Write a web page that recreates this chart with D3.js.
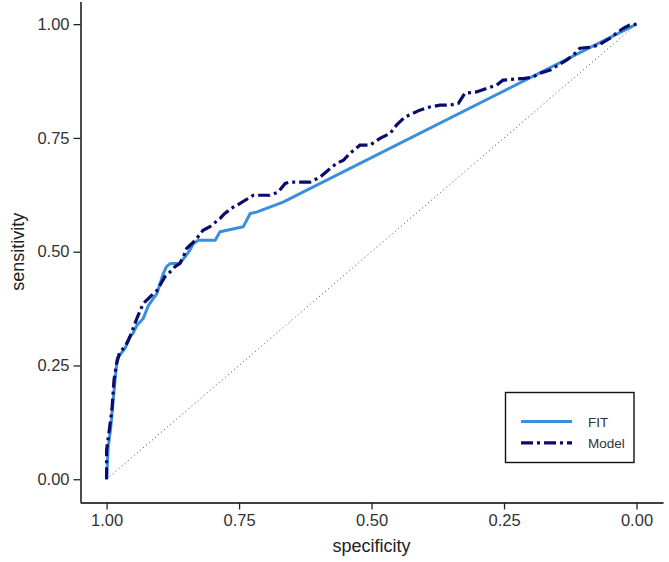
<!DOCTYPE html>
<html><head><meta charset="utf-8">
<script src="https://cdn.jsdelivr.net/npm/d3@7"></script>
<style>body{margin:0;background:#fff}svg{display:block;font-family:"Liberation Sans",Arial,sans-serif}</style>
</head><body><svg id="c" width="669" height="562"></svg>
<script>
// specificity / sensitivity pairs
const fitSpec = [1.000,0.997,0.992,0.987,0.984,0.980,0.975,0.965,0.956,0.950,0.943,0.931,0.921,0.912,0.905,0.899,0.893,0.887,0.880,0.862,0.852,0.843,0.836,0.827,0.795,0.786,0.742,0.729,0.717,0.692,0.667,0.000];
const fitSens = [0.000,0.071,0.115,0.181,0.218,0.266,0.273,0.288,0.313,0.321,0.338,0.353,0.382,0.397,0.408,0.430,0.452,0.467,0.474,0.474,0.489,0.503,0.518,0.525,0.525,0.544,0.555,0.584,0.587,0.598,0.609,1.000];
const modelSpec = [1.000,1.000,0.995,0.990,0.986,0.981,0.975,0.965,0.956,0.943,0.931,0.915,0.905,0.890,0.877,0.871,0.862,0.855,0.849,0.839,0.830,0.818,0.805,0.786,0.777,0.761,0.748,0.733,0.723,0.692,0.676,0.663,0.654,0.616,0.597,0.578,0.566,0.553,0.541,0.522,0.503,0.484,0.465,0.453,0.437,0.409,0.390,0.371,0.352,0.336,0.324,0.302,0.283,0.264,0.252,0.211,0.195,0.182,0.163,0.148,0.132,0.119,0.107,0.082,0.066,0.050,0.038,0.025,0.013,0.000];
const modelSens = [0.000,0.064,0.108,0.152,0.218,0.255,0.280,0.291,0.313,0.353,0.386,0.404,0.415,0.445,0.459,0.467,0.474,0.489,0.507,0.518,0.529,0.547,0.555,0.573,0.584,0.598,0.606,0.617,0.624,0.624,0.631,0.650,0.653,0.653,0.664,0.683,0.694,0.701,0.716,0.734,0.734,0.749,0.760,0.778,0.796,0.811,0.818,0.822,0.822,0.826,0.848,0.851,0.859,0.866,0.877,0.881,0.884,0.892,0.899,0.910,0.921,0.932,0.947,0.950,0.958,0.969,0.980,0.991,0.998,1.000];
const tickValues = [1.00,0.75,0.50,0.25,0.00];
const seriesNames = ["FIT","Model"];
const seriesColors = ["#3a8fdd","#0b0b6b"];

const svg = d3.select("#c");
const x = d3.scaleLinear().domain([1.05,-0.05]).range([80.1,663]);
const y = d3.scaleLinear().domain([-0.05,1.05]).range([502,1.4]);

// diagonal reference
svg.append("line").attr("x1",x(1)).attr("y1",y(0)).attr("x2",x(0)).attr("y2",y(1))
  .attr("stroke","#444").attr("stroke-width",1).attr("stroke-dasharray","1,3");

const line = d3.line().x(d=>x(d[0])).y(d=>y(d[1]));
const fit = fitSpec.map((s,i)=>[s,fitSens[i]]);
const model = modelSpec.map((s,i)=>[s,modelSens[i]]);
svg.append("path").datum(fit).attr("d",line).attr("fill","none")
  .attr("stroke",seriesColors[0]).attr("stroke-width",3).attr("stroke-linejoin","round");
svg.append("path").datum(model).attr("d",line).attr("fill","none")
  .attr("stroke",seriesColors[1]).attr("stroke-width",3.2).attr("stroke-dasharray","12,4,3,4");

// axes
const xa = svg.append("g").attr("transform","translate(0,502.5)")
  .call(d3.axisBottom(x).tickValues(tickValues).tickFormat(d3.format(".2f")).tickSize(7).tickSizeOuter(0).tickPadding(5));
const ya = svg.append("g").attr("transform","translate(80.5,0)")
  .call(d3.axisLeft(y).tickValues(tickValues).tickFormat(d3.format(".2f")).tickSize(7).tickSizeOuter(0).tickPadding(4));
[xa,ya].forEach(g=>{
  g.select(".domain").attr("stroke","#000").attr("stroke-width",1.4);
  g.selectAll(".tick line").attr("stroke","#222").attr("stroke-width",1.3);
  g.selectAll(".tick text").attr("fill","#333").style("font-size","16.5px").style("font-family","Liberation Sans, Arial, sans-serif");
});
svg.append("text").attr("x",(80+663)/2).attr("y",552).attr("text-anchor","middle")
  .style("font-size","18px").attr("fill","#222").text("specificity");
svg.append("text").attr("transform","translate(24,"+((1.4+502)/2)+") rotate(-90)").attr("text-anchor","middle")
  .style("font-size","18px").attr("fill","#222").text("sensitivity");

// legend
const lg = svg.append("g");
lg.append("rect").attr("x",505.5).attr("y",392.5).attr("width",128.5).attr("height",70)
  .attr("fill","#fff").attr("stroke","#111").attr("stroke-width",1.4);
const dashes = [null,"12,4,3,4"];
seriesNames.forEach((n,i)=>{
  const yy = 421.5 + i*21.3;
  lg.append("line").attr("x1",521).attr("x2",572).attr("y1",yy).attr("y2",yy)
    .attr("stroke",seriesColors[i]).attr("stroke-width",i?3.2:3).attr("stroke-dasharray",dashes[i]);
  lg.append("text").attr("x",588).attr("y",yy+5).style("font-size","13.5px").attr("fill","#333").text(n);
});
</script></body></html>
